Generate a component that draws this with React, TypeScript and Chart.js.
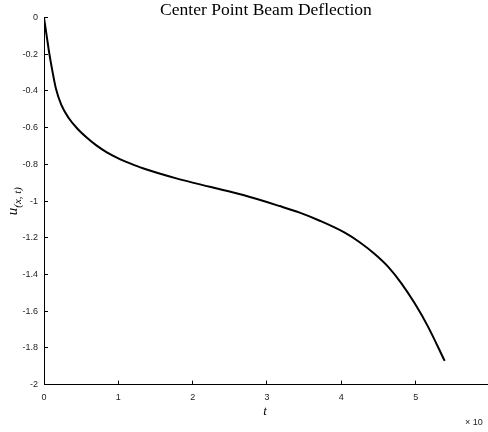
import React, { useEffect, useRef } from "react";
import { Chart, registerables } from "chart.js";

Chart.register(...registerables);

const titleText = "Center Point Beam Deflection";
const xTitle = "t";
const yTitleMain = "u";
const yTitleSub = "(x, t)";
const exponentText = "× 10";

const tValues = [0, 0.04, 0.071, 0.117, 0.161, 0.233, 0.332, 0.444, 0.578, 0.7, 0.84, 1.0, 1.15, 1.33, 1.78, 2.23, 2.68, 3.17, 3.44, 3.71, 4.046, 4.247, 4.449, 4.628, 4.808, 4.987, 5.166, 5.39];
const uValues = [0, -0.11, -0.195, -0.3, -0.388, -0.476, -0.547, -0.603, -0.655, -0.695, -0.733, -0.767, -0.793, -0.821, -0.876, -0.922, -0.967, -1.027, -1.063, -1.107, -1.172, -1.224, -1.288, -1.357, -1.448, -1.557, -1.684, -1.871];

const xMin = 0;
const xMax = 6;
const xStep = 1;
const yMin = -2;
const yMax = 0;
const yStep = 0.2;

const W = 504;
const H = 432;

const textPlugin = {
  id: "textPlugin",
  afterDraw(chart: any) {
    const ctx = chart.ctx;
    const area = chart.chartArea;
    ctx.save();
    ctx.fillStyle = "#000";
    // title
    let size = 14;
    ctx.font = `${size}px "Liberation Serif"`;
    const w = ctx.measureText(titleText).width;
    size = size * 212 / w;
    ctx.font = `${size}px "Liberation Serif"`;
    ctx.textAlign = "center";
    ctx.textBaseline = "alphabetic";
    ctx.fillText(titleText, 266, 15);
    // x title
    ctx.font = `italic 13px "Liberation Serif"`;
    ctx.fillText(xTitle, 265, 415);
    // y title rotated
    ctx.save();
    ctx.translate(17, (area.top + area.bottom) / 2);
    ctx.rotate(-Math.PI / 2);
    ctx.font = `italic 15px "Liberation Serif"`;
    const uw = ctx.measureText(yTitleMain).width;
    ctx.font = `italic 11px "Liberation Serif"`;
    const sw = ctx.measureText(yTitleSub).width;
    const total = uw + sw;
    ctx.textAlign = "left";
    ctx.font = `italic 15px "Liberation Serif"`;
    ctx.fillText(yTitleMain, -total / 2, 0);
    ctx.font = `italic 11px "Liberation Serif"`;
    ctx.fillText(yTitleSub, -total / 2 + uw, 4);
    ctx.restore();
    // exponent
    ctx.font = `9px "Liberation Sans"`;
    ctx.textAlign = "left";
    ctx.fillStyle = "#222";
    ctx.fillText(exponentText, 465, 425);
    ctx.restore();
  },
};

export default function App() {
  const ref = useRef<HTMLCanvasElement>(null);
  useEffect(() => {
    if (!ref.current) return;
    const points = tValues.map((t, i) => ({ x: t, y: uValues[i] }));
    const chart = new Chart(ref.current, {
      type: "line",
      data: {
        datasets: [
          {
            data: points,
            borderColor: "#000",
            borderWidth: 2,
            pointRadius: 0,
            fill: false,
            cubicInterpolationMode: "monotone",
          },
        ],
      },
      options: {
        animation: false,
        responsive: false,
        devicePixelRatio: 1,
        layout: { padding: { top: 17.6, right: 0, left: 0, bottom: 0 } },
        plugins: { legend: { display: false }, title: { display: false }, tooltip: { enabled: false } },
        scales: {
          x: {
            type: "linear",
            min: xMin,
            max: xMax,
            ticks: {
              stepSize: xStep,
              padding: 11.5,
              color: "#222",
              font: { family: "Liberation Sans", size: 9 },
              maxRotation: 0,
              autoSkip: false,
            },
            grid: { drawOnChartArea: false, tickLength: -4, color: "#000", lineWidth: 1 },
            border: { display: true, color: "#000", width: 1 },
            afterFit: (s: any) => {
              s.height = 47.4;
            },
          },
          y: {
            type: "linear",
            min: yMin,
            max: yMax,
            ticks: {
              stepSize: yStep,
              padding: 10,
              color: "#222",
              font: { family: "Liberation Sans", size: 9 },
              callback: (v: any) => Number(Number(v).toFixed(1)).toString(),
            },
            grid: { drawOnChartArea: false, tickLength: -4, color: "#000", lineWidth: 1 },
            border: { display: true, color: "#000", width: 1 },
            afterFit: (s: any) => {
              s.width = 44;
            },
          },
        },
      } as any,
      plugins: [textPlugin],
    });
    return () => chart.destroy();
  }, []);
  return (
    <div style={{ position: "fixed", left: 0, top: 0, width: 488, height: 432, overflow: "hidden", background: "#fff" }}>
      <canvas ref={ref} width={W} height={H} style={{ width: W, height: H, display: "block" }} />
    </div>
  );
}
